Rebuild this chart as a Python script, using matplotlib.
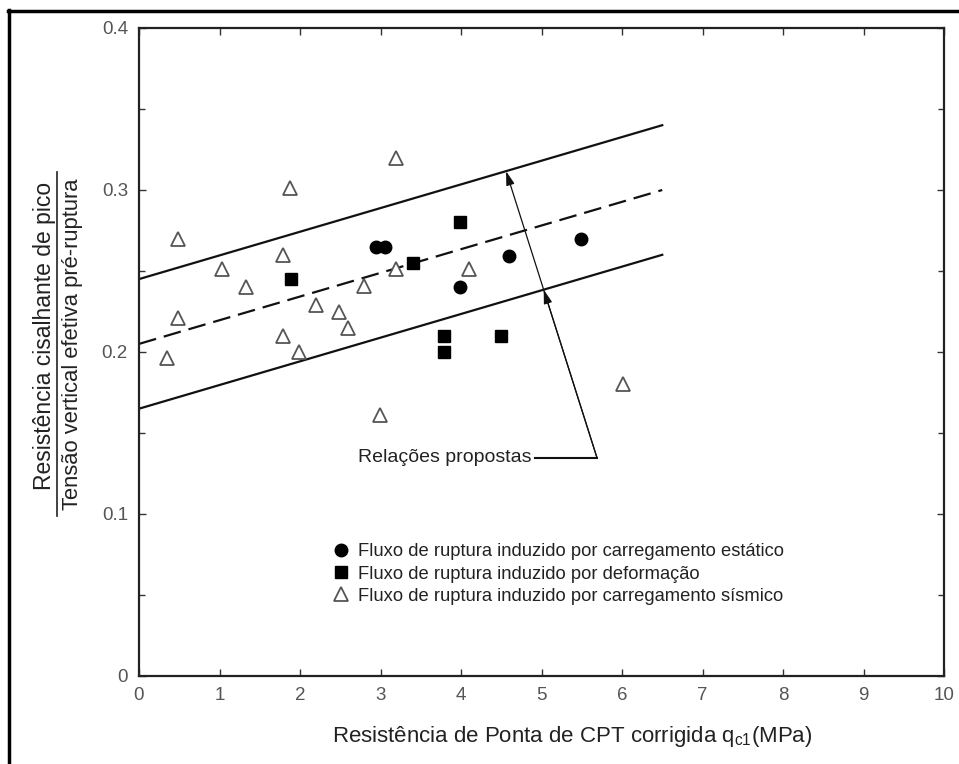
import matplotlib.pyplot as plt
from matplotlib.lines import Line2D

plt.rcParams['font.family'] = ['Liberation Sans', 'DejaVu Sans']

# dados (q_c1 em MPa, razão de resistência)
est_x = [2.94, 3.06, 3.99, 4.60, 5.49]
est_y = [0.265, 0.265, 0.240, 0.259, 0.270]

def_x = [1.89, 3.40, 3.99, 3.79, 3.79, 4.50]
def_y = [0.245, 0.255, 0.280, 0.210, 0.200, 0.210]

sis_x = [0.35, 0.48, 0.48, 1.03, 1.33, 1.79, 1.79, 1.88, 1.99,
         2.20, 2.48, 2.60, 2.80, 2.99, 3.19, 3.19, 4.10, 6.01]
sis_y = [0.196, 0.221, 0.270, 0.251, 0.240, 0.210, 0.260, 0.301, 0.200,
         0.229, 0.225, 0.215, 0.241, 0.161, 0.320, 0.251, 0.251, 0.180]

# relações propostas
rel_x = [0, 6.5]
rel_sup = [0.245, 0.340]
rel_med = [0.205, 0.300]
rel_inf = [0.165, 0.260]

seta_origem = (5.69, 0.1346)
seta_alvos = [(4.56, 0.3116), (5.027, 0.2385)]
texto_pos = (4.92, 0.1346)

lab_est = 'Fluxo de ruptura induzido por carregamento estático'
lab_def = 'Fluxo de ruptura induzido por deformação'
lab_sis = 'Fluxo de ruptura induzido por carregamento sísmico'

fig = plt.figure(figsize=(9.59, 7.64), dpi=100)
ax = fig.add_axes([139/959, 1 - 676/764, 805/959, 648/764])

cor = '#111111'
ax.plot(rel_x, rel_sup, color=cor, lw=1.6, zorder=2)
ax.plot(rel_x, rel_inf, color=cor, lw=1.6, zorder=2)
ax.plot(rel_x, rel_med, color=cor, lw=1.6, ls=(0, (8, 3.6)), zorder=2)

ax.plot(est_x, est_y, 'o', color='black', ms=9, ls='none', zorder=3, label=lab_est)
ax.plot(def_x, def_y, 's', color='black', ms=9, ls='none', zorder=3, label=lab_def)
ax.plot(sis_x, sis_y, '^', mfc='white', mec='#555555', mew=1.3, ms=10,
        ls='none', zorder=3, label=lab_sis)

# setas das relações propostas
for alvo in seta_alvos:
    ax.annotate('', xy=alvo, xytext=seta_origem,
                arrowprops=dict(arrowstyle='-|>,head_length=0.6,head_width=0.18',
                                color=cor, lw=0.9, shrinkA=0, shrinkB=0,
                                mutation_scale=14), zorder=2)
ax.plot([texto_pos[0], seta_origem[0]], [texto_pos[1], seta_origem[1]],
        color=cor, lw=1.5, zorder=2)
ax.text(texto_pos[0] - 0.04, texto_pos[1], 'Relações propostas', fontsize=14,
        ha='right', va='center', color='#222222')

leg = ax.legend(loc='upper left', bbox_to_anchor=(0.2417, 0.2045), frameon=False,
                fontsize=13.2, handlelength=0.8, handletextpad=0.53,
                labelspacing=0.28, borderpad=0, borderaxespad=0)
for t in leg.get_texts():
    t.set_color('#222222')

ax.set_xlim(0, 10)
ax.set_ylim(0, 0.4)
ax.set_xticks(range(0, 11))
ax.set_yticks([0, 0.1, 0.2, 0.3, 0.4])
ax.set_yticklabels(['0', '0.1', '0.2', '0.3', '0.4'])
ax.set_yticks([0.05, 0.15, 0.25, 0.35], minor=True)
ax.tick_params(which='both', direction='in', top=True, right=True,
               colors='#333333', labelcolor='#555555', labelsize=13.5, width=1)
ax.tick_params(which='major', length=5)
ax.tick_params(which='minor', length=4)
ax.tick_params(axis='x', pad=8)
ax.tick_params(axis='y', pad=8)
for s in ax.spines.values():
    s.set_linewidth(1.6)
    s.set_color('#222222')

ax.set_xlabel(r'Resistência de Ponta de CPT corrigida q$_{\mathregular{c1}}$(MPa)',
              fontsize=16, color='#222222')
ax.xaxis.set_label_coords((572 - 139) / 805, -(724 - 676) / 648)

# rótulo do eixo y em forma de fração
fig.text(51/959, 1 - 336/764, 'Resistência cisalhante de pico', rotation=90,
         rotation_mode='anchor', fontsize=16.5, ha='center', va='baseline',
         color='#222222')
fig.text(78/959, 1 - 344/764, 'Tensão vertical efetiva pré-ruptura', rotation=90,
         rotation_mode='anchor', fontsize=15.8, ha='center', va='baseline',
         color='#222222')
fig.add_artist(Line2D([57/959, 57/959], [1 - 172/764, 1 - 516/764],
                      color='#222222', lw=1.2))

# moldura externa
fig.add_artist(Line2D([9/959, 9/959], [0, 1 - 10/764], color='black', lw=2.5))
fig.add_artist(Line2D([8/959, 1], [1 - 11/764, 1 - 11/764], color='black', lw=2.5))

fig.savefig('out.png', dpi=100)
